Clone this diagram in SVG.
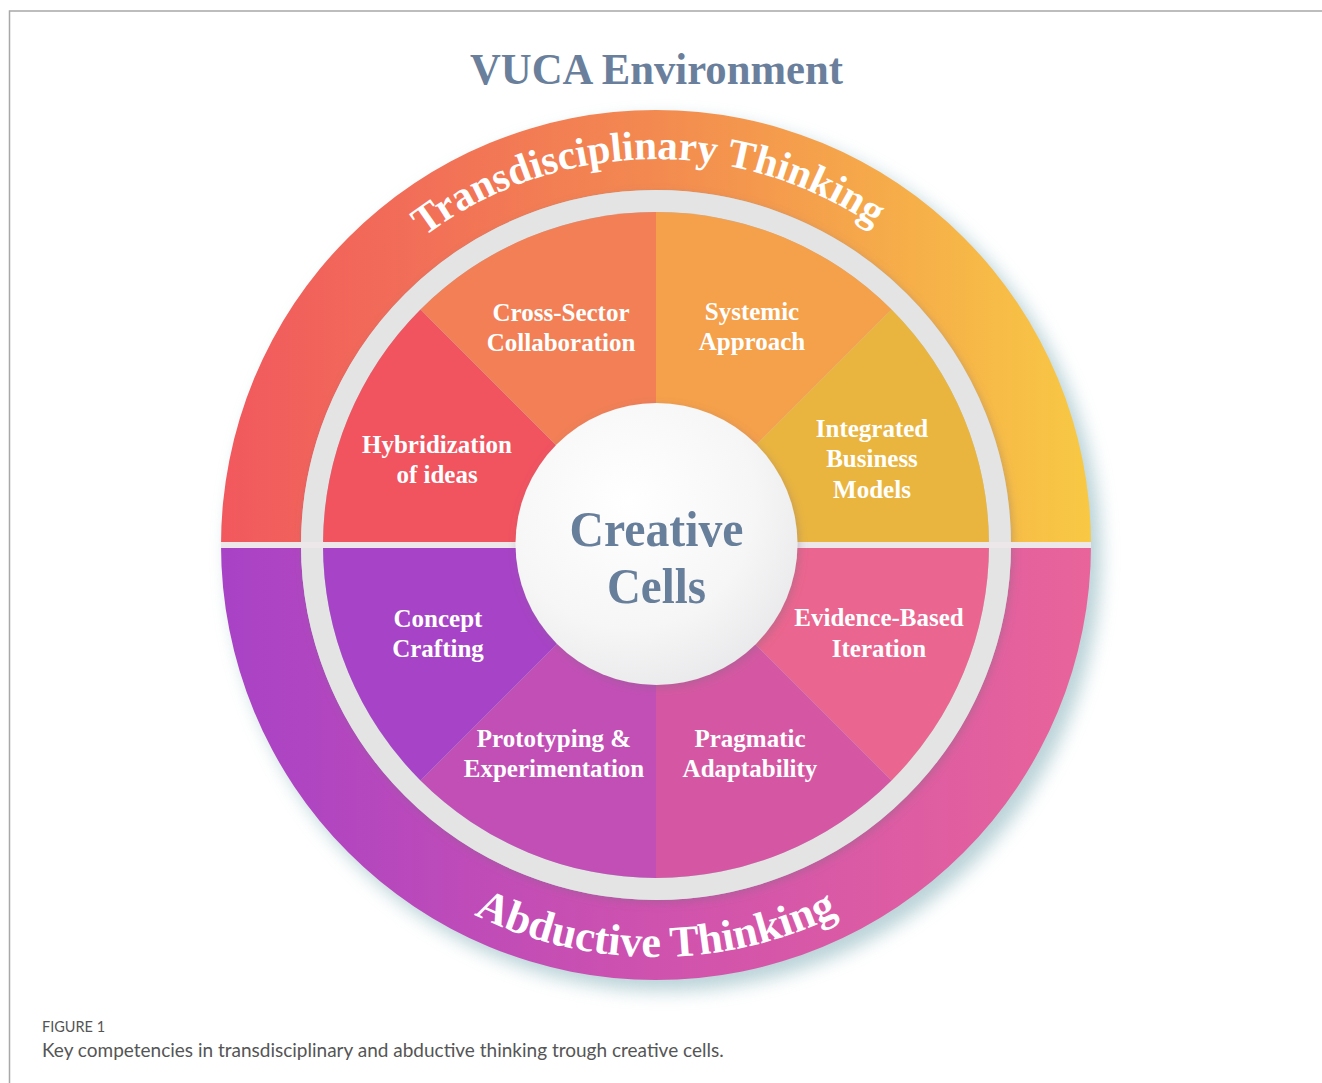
<svg xmlns="http://www.w3.org/2000/svg" width="1322" height="1083" viewBox="0 0 1322 1083">
  <defs>
    <style>
      .serif { font-family: "Liberation Serif", "Times New Roman", serif; font-weight: bold; }
      .lbl { font-family: "Liberation Serif", "Times New Roman", serif; font-weight: bold; font-size: 25px; fill: #ffffff; text-anchor: middle; }
      .arc { font-family: "Liberation Serif", "Times New Roman", serif; font-weight: bold; fill: #ffffff; }
      .cap { font-family: "Lato", "Liberation Sans", sans-serif; fill: #555555; }
    </style>
    <linearGradient id="gTop" x1="221" y1="0" x2="1091" y2="0" gradientUnits="userSpaceOnUse">
      <stop offset="0" stop-color="#F1585E"/>
      <stop offset="0.5" stop-color="#F38A50"/>
      <stop offset="1" stop-color="#F8C944"/>
    </linearGradient>
    <linearGradient id="gBot" x1="221" y1="0" x2="1091" y2="0" gradientUnits="userSpaceOnUse">
      <stop offset="0" stop-color="#A842C6"/>
      <stop offset="0.5" stop-color="#CF52AE"/>
      <stop offset="1" stop-color="#E8649A"/>
    </linearGradient>
    <radialGradient id="gCenter" cx="0.4" cy="0.35" r="0.75">
      <stop offset="0" stop-color="#FFFFFF"/>
      <stop offset="0.6" stop-color="#F6F6F7"/>
      <stop offset="1" stop-color="#E6E6E8"/>
    </radialGradient>
    <filter id="shadow" x="-20%" y="-20%" width="140%" height="140%">
      <feGaussianBlur stdDeviation="9"/>
    </filter>
    <filter id="soft" x="-20%" y="-20%" width="140%" height="140%">
      <feDropShadow dx="2" dy="3" stdDeviation="4" flood-color="#7a6a80" flood-opacity="0.35"/>
    </filter>
    <path id="arcTop" d="M 270,545 A 386 386 0 0 1 1042,545"/>
    <path id="arcBot" d="M 244,545 A 412 412 0 0 0 1068,545"/>
  </defs>

  <rect x="0" y="0" width="1322" height="1083" fill="#ffffff"/>
  <path d="M 9.5,1083 L 9.5,11 L 1322,11" fill="none" stroke="#a8a8a8" stroke-width="1.5"/>

  <text id="title" class="serif" x="656.5" y="84" font-size="44" fill="#6A7F9C" text-anchor="middle" textLength="373" lengthAdjust="spacingAndGlyphs">VUCA Environment</text>

  <!-- disc shadow -->
  <circle cx="665" cy="555" r="436" fill="#A9C8CF" opacity="0.8" filter="url(#shadow)"/>

  <g id="ring-transdisciplinary">
    <path d="M 221,545 A 435 435 0 0 1 1091,545 L 1011,545 A 355 355 0 0 0 301,545 Z" fill="url(#gTop)"/>
    <text class="arc" font-size="41"><textPath href="#arcTop" startOffset="49.3%" text-anchor="middle">Transdisciplinary Thinking</textPath></text>
  </g>
  <g id="ring-abductive">
    <path d="M 221,545 A 435 435 0 0 0 1091,545 L 1011,545 A 355 355 0 0 1 301,545 Z" fill="url(#gBot)"/>
    <text class="arc" font-size="44"><textPath href="#arcBot" startOffset="50%" text-anchor="middle">Abductive Thinking</textPath></text>
  </g>

  <g id="gray-ring">
    <circle cx="656" cy="545" r="344" fill="none" stroke="#E4E4E5" stroke-width="22" filter="url(#soft)"/>
  </g>

  <g id="node-hybridization">
    <path d="M 656,545 L 323,545 A 333 333 0 0 1 420.5,309.5 Z" fill="#F1535F"/>
    <text class="lbl" x="437" y="453">Hybridization</text>
    <text class="lbl" x="437" y="483">of ideas</text>
  </g>
  <g id="node-cross-sector">
    <path d="M 656,545 L 420.5,309.5 A 333 333 0 0 1 656,212 Z" fill="#F27F55"/>
    <text class="lbl" x="561" y="321">Cross-Sector</text>
    <text class="lbl" x="561" y="351">Collaboration</text>
  </g>
  <g id="node-systemic">
    <path d="M 656,545 L 656,212 A 333 333 0 0 1 891.5,309.5 Z" fill="#F5A04A"/>
    <text class="lbl" x="752" y="320">Systemic</text>
    <text class="lbl" x="752" y="350">Approach</text>
  </g>
  <g id="node-integrated">
    <path d="M 656,545 L 891.5,309.5 A 333 333 0 0 1 989,545 Z" fill="#EAB53F"/>
    <text class="lbl" x="872" y="437">Integrated</text>
    <text class="lbl" x="872" y="467">Business</text>
    <text class="lbl" x="872" y="498">Models</text>
  </g>
  <g id="node-evidence">
    <path d="M 656,545 L 989,545 A 333 333 0 0 1 891.5,780.5 Z" fill="#EA658F"/>
    <text class="lbl" x="879" y="626">Evidence-Based</text>
    <text class="lbl" x="879" y="657">Iteration</text>
  </g>
  <g id="node-pragmatic">
    <path d="M 656,545 L 891.5,780.5 A 333 333 0 0 1 656,878 Z" fill="#D557A3"/>
    <text class="lbl" x="750" y="747">Pragmatic</text>
    <text class="lbl" x="750" y="777">Adaptability</text>
  </g>
  <g id="node-prototyping">
    <path d="M 656,545 L 656,878 A 333 333 0 0 1 420.5,780.5 Z" fill="#C24FB6"/>
    <text class="lbl" x="554" y="747">Prototyping &amp;</text>
    <text class="lbl" x="554" y="777">Experimentation</text>
  </g>
  <g id="node-concept">
    <path d="M 656,545 L 420.5,780.5 A 333 333 0 0 1 323,545 Z" fill="#A743C6"/>
    <text class="lbl" x="438" y="627">Concept</text>
    <text class="lbl" x="438" y="657">Crafting</text>
  </g>

  <g id="connectors">
    <rect x="221" y="542" width="870" height="6" fill="#EEE7EA"/>
  </g>

  <g id="node-creative-cells">
    <circle cx="656.5" cy="544" r="141" fill="url(#gCenter)" filter="url(#soft)"/>
    <text class="serif" x="656.5" y="546" font-size="51" fill="#687F9B" text-anchor="middle" textLength="174" lengthAdjust="spacingAndGlyphs">Creative</text>
    <text class="serif" x="656.5" y="603" font-size="51" fill="#687F9B" text-anchor="middle" textLength="99" lengthAdjust="spacingAndGlyphs">Cells</text>
  </g>

  <g id="caption">
    <text class="cap" x="42" y="1032" font-size="14.5">FIGURE 1</text>
    <text class="cap" x="42" y="1057" font-size="19">Key competencies in transdisciplinary and abductive thinking trough creative cells.</text>
  </g>
</svg>
